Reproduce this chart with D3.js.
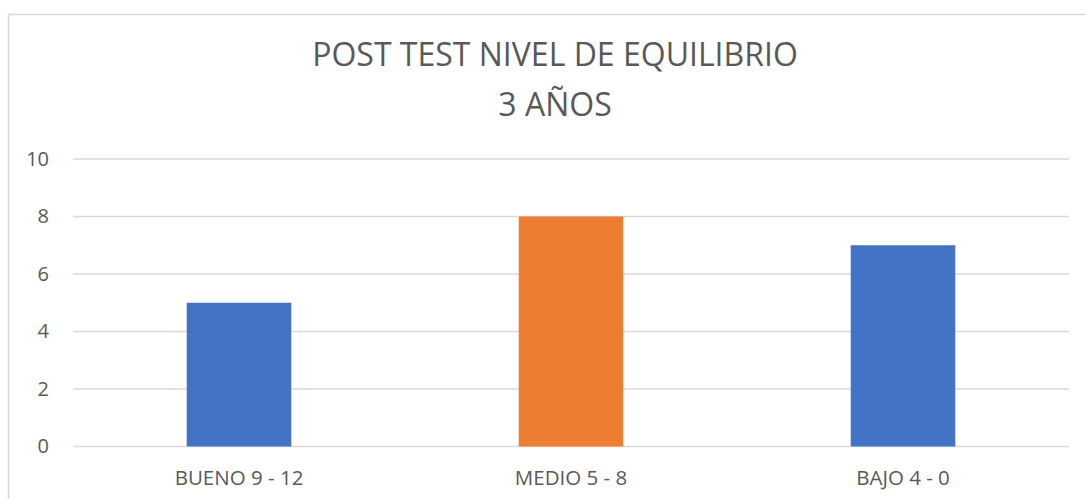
<!DOCTYPE html>
<html>
<head>
<meta charset="utf-8">
<script src="https://cdn.jsdelivr.net/npm/d3@7"></script>
<style>
  body { margin: 0; background: #fff; }
  text { font-family: "Open Sans", sans-serif; fill: #595959; }
</style>
</head>
<body>
<div id="chart"></div>
<script>
const FRAME_WIDTH = 1086;
const FRAME_HEIGHT = 499;
const MARGINS = {left: 73, right: 17, top: 159, bottom: 52};

// data
const categories = ["BUENO 9 - 12", "MEDIO 5 - 8", "BAJO 4 - 0"];
const values = [5, 8, 7];
const barColors = ["#4472C4", "#ED7D31", "#4472C4"];
const yTicks = [0, 2, 4, 6, 8, 10];
const titleLines = ["POST TEST NIVEL DE EQUILIBRIO", "3 AÑOS"];

const FRAME = d3.select("#chart")
  .append("svg")
    .attr("width", FRAME_WIDTH)
    .attr("height", FRAME_HEIGHT);

// chart border
FRAME.append("rect")
  .attr("x", 8.5).attr("y", 14.5)
  .attr("width", 1100).attr("height", 520)
  .attr("fill", "none")
  .attr("stroke", "#d9d9d9")
  .attr("stroke-width", 1.5);

const X_SCALE = d3.scaleBand()
  .domain(categories)
  .range([MARGINS.left, FRAME_WIDTH - MARGINS.right])
  .paddingInner(0.685)
  .paddingOuter(0.3425);

const Y_SCALE = d3.scaleLinear()
  .domain([0, 10])
  .range([446.5, MARGINS.top]);

// gridlines
FRAME.append("g")
  .selectAll("line")
  .data(yTicks)
  .enter()
  .append("line")
    .attr("x1", MARGINS.left)
    .attr("x2", FRAME_WIDTH - MARGINS.right)
    .attr("y1", d => Y_SCALE(d))
    .attr("y2", d => Y_SCALE(d))
    .attr("stroke", "#d9d9d9")
    .attr("stroke-width", 1.5);

// y axis labels
const yAxis = FRAME.append("g")
  .attr("transform", "translate(" + (MARGINS.left - 24) + ",0)")
  .call(d3.axisLeft(Y_SCALE).tickValues(yTicks).tickSize(0).tickPadding(0));
yAxis.select(".domain").remove();
yAxis.selectAll("text")
  .attr("font-size", "20px")
  .attr("font-family", "Open Sans, sans-serif")
  .attr("fill", "#595959");

// bars
FRAME.selectAll(".bar")
  .data(values)
  .enter()
  .append("rect")
    .attr("class", "bar")
    .attr("x", (d, i) => X_SCALE(categories[i]))
    .attr("y", d => Y_SCALE(d))
    .attr("width", X_SCALE.bandwidth())
    .attr("height", d => Y_SCALE(0) - Y_SCALE(d))
    .attr("fill", (d, i) => barColors[i]);

// x axis labels
const xAxis = FRAME.append("g")
  .attr("transform", "translate(0," + (Y_SCALE(0) + 23.5) + ")")
  .call(d3.axisBottom(X_SCALE).tickSize(0).tickPadding(0));
xAxis.select(".domain").remove();
xAxis.selectAll("text")
  .attr("font-size", "20.5px")
  .attr("font-family", "Open Sans, sans-serif")
  .attr("fill", "#595959");

// title
FRAME.append("g")
  .selectAll("text")
  .data(titleLines)
  .enter()
  .append("text")
    .attr("x", 555)
    .attr("y", (d, i) => 66 + i * 50)
    .attr("text-anchor", "middle")
    .attr("font-size", "32px")
    .text(d => d);
</script>
</body>
</html>
